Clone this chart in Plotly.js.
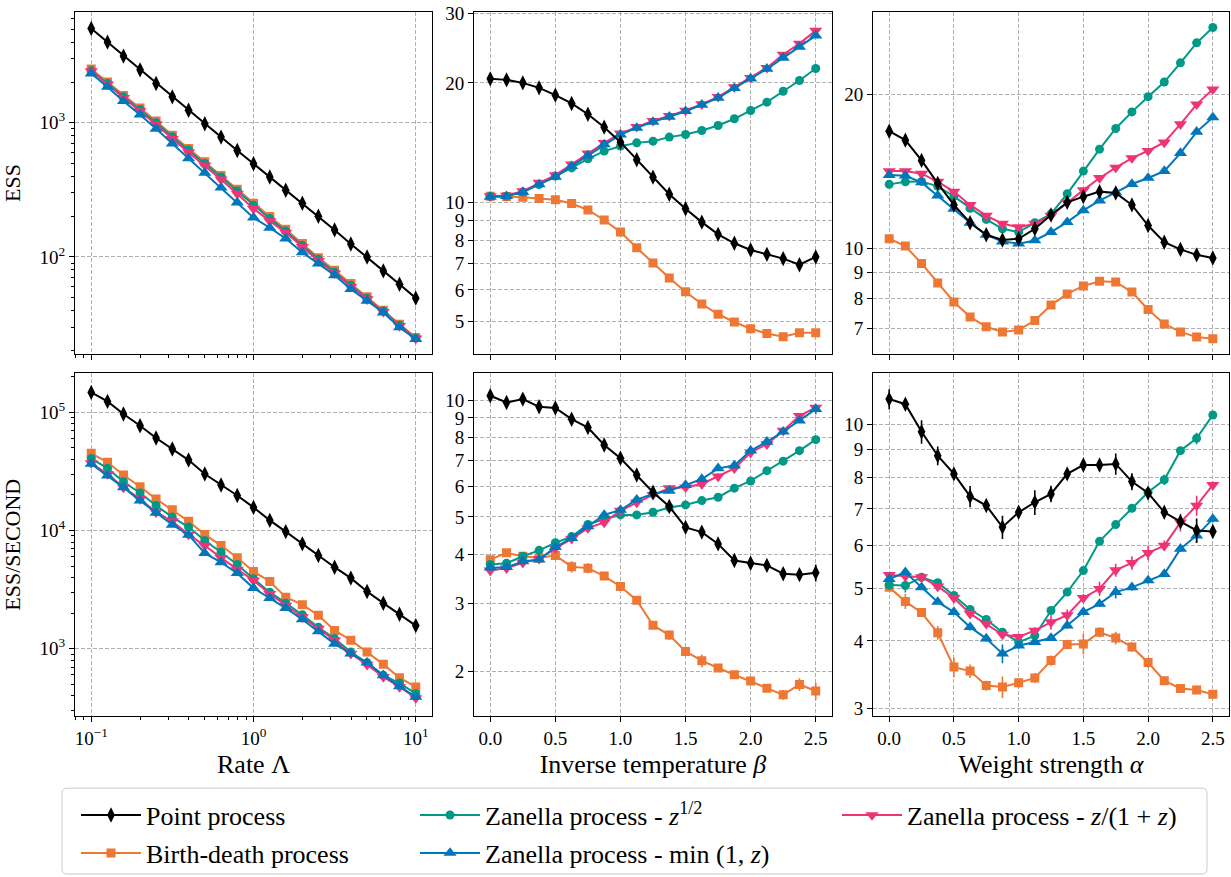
<!DOCTYPE html>
<html>
<head>
<meta charset="utf-8">
<script src="https://cdn.plot.ly/plotly-3.0.1.min.js"></script>
<style>
html, body { margin: 0; padding: 0; background: #ffffff; }
#chart { width: 1231px; height: 877px; }
</style>
</head>
<body>
<div id="chart"></div>
<script>
// ---------------- data ----------------
const rateLambda = [0.1, 0.126, 0.158, 0.2, 0.251, 0.316, 0.398, 0.501, 0.631, 0.794, 1.0,
                    1.26, 1.58, 2.0, 2.51, 3.16, 3.98, 5.01, 6.31, 7.94, 10.0];
const betaValues = [0, 0.125, 0.25, 0.375, 0.5, 0.625, 0.75, 0.875, 1.0, 1.125, 1.25,
                    1.375, 1.5, 1.625, 1.75, 1.875, 2.0, 2.125, 2.25, 2.375, 2.5];
const alphaValues = [0, 0.125, 0.25, 0.375, 0.5, 0.625, 0.75, 0.875, 1.0, 1.125, 1.25,
                     1.375, 1.5, 1.625, 1.75, 1.875, 2.0, 2.125, 2.25, 2.375, 2.5];

const seriesNames = [
  'Point process',
  'Birth-death process',
  'Zanella process - <i>z</i><sup>1/2</sup>',
  'Zanella process - min (1, <i>z</i>)',
  'Zanella process - <i>z</i>/(1 + <i>z</i>)'
];

// ESS vs rate
const essRatePoint = [5040, 3990, 3140, 2480, 1960, 1560, 1240, 983, 782, 622, 495, 394, 314, 251, 201, 159, 125, 100, 78.7, 62.6, 49.3];
const essRateBirth = [2520, 2010, 1600, 1290, 1030, 809, 644, 513, 405, 319, 251, 200, 161, 126, 98.8, 79.5, 63.3, 50.4, 40.1, 31.5, 25.1];
const essRateSqrt  = [2450, 1960, 1560, 1256, 1000, 787, 626, 498, 394, 310, 243, 193, 156, 122, 96.2, 77.3, 61.5, 49.2, 39.5, 31.0, 24.8];
const essRateMin   = [2330, 1850, 1450, 1150, 902, 698, 542, 424, 328, 254, 196, 165, 137, 108, 89.1, 73.0, 57.5, 47.0, 38.5, 29.8, 24.4];
const essRateFrac  = [2430, 1930, 1530, 1220, 972, 760, 605, 481, 378, 296, 229, 185, 152, 119, 93.3, 75.5, 60.1, 48.4, 39.0, 30.6, 24.7];

// ESS vs inverse temperature
const essBetaPoint = [20.47, 20.35, 20.0, 19.43, 18.62, 17.74, 16.67, 15.46, 14.17, 12.79, 11.56, 10.47, 9.62, 8.90, 8.29, 7.87, 7.57, 7.38, 7.20, 6.95, 7.27];
const essBetaBirth = [10.35, 10.33, 10.29, 10.21, 10.14, 9.92, 9.55, 9.01, 8.40, 7.67, 7.02, 6.43, 5.94, 5.53, 5.21, 4.98, 4.79, 4.66, 4.57, 4.68, 4.68];
const essBetaSqrt  = [10.33, 10.35, 10.60, 11.08, 11.63, 12.20, 12.86, 13.45, 13.84, 14.11, 14.25, 14.59, 14.81, 15.16, 15.61, 16.23, 17.03, 17.88, 19.05, 20.27, 21.74];
const essBetaMin   = [10.31, 10.35, 10.60, 11.08, 11.58, 12.32, 13.11, 13.98, 14.81, 15.39, 15.94, 16.42, 16.96, 17.60, 18.33, 19.39, 20.51, 21.70, 23.13, 24.65, 26.33];
const essBetaFrac  = [10.35, 10.39, 10.66, 11.19, 11.70, 12.45, 13.27, 14.11, 14.90, 15.49, 16.04, 16.51, 17.03, 17.67, 18.44, 19.50, 20.59, 21.83, 23.58, 25.13, 27.10];

// ESS vs weight strength
const essAlphaPoint = [16.97, 16.30, 14.88, 13.42, 12.18, 11.24, 10.65, 10.40, 10.46, 10.94, 11.64, 12.32, 12.64, 12.93, 12.85, 12.18, 11.10, 10.30, 9.97, 9.73, 9.59];
const essAlphaBirth = [10.46, 10.12, 9.36, 8.57, 7.87, 7.36, 7.04, 6.88, 6.94, 7.24, 7.76, 8.16, 8.46, 8.64, 8.61, 8.23, 7.61, 7.13, 6.88, 6.72, 6.67];
const essAlphaSqrt  = [13.36, 13.52, 13.54, 13.24, 12.66, 12.00, 11.41, 10.94, 10.78, 11.24, 11.70, 12.80, 14.18, 15.65, 17.18, 18.51, 19.82, 21.17, 23.08, 25.25, 27.05];
const essAlphaMin   = [13.93, 13.89, 13.48, 12.70, 11.96, 11.24, 10.65, 10.33, 10.23, 10.38, 10.78, 11.27, 11.88, 12.42, 12.89, 13.38, 13.75, 14.18, 15.38, 16.92, 18.05];
const essAlphaFrac  = [14.18, 14.18, 14.02, 13.52, 12.93, 12.18, 11.61, 11.19, 11.02, 11.19, 11.61, 12.32, 13.02, 13.75, 14.41, 15.04, 15.54, 16.13, 17.51, 19.15, 20.49];

// ESS/second vs rate
const esssRatePoint = [147600, 123900, 96800, 77100, 60700, 49000, 39500, 30100, 24300, 19800, 15700, 12200, 9800, 7720, 6150, 4900, 3960, 3050, 2430, 1960, 1570];
const esssRateBirth = [45100, 37800, 29500, 23500, 18500, 15000, 12000, 9250, 7470, 5880, 4510, 3710, 2730, 2360, 1920, 1430, 1180, 937, 738, 569, 475];
const esssRateSqrt  = [40800, 33600, 25900, 20800, 16300, 13000, 10700, 8230, 6560, 5160, 3910, 3010, 2430, 1940, 1520, 1220, 937, 762, 596, 513, 417];
const esssRateMin   = [36600, 29200, 23200, 17900, 14100, 11200, 9190, 6430, 5390, 4360, 3260, 2680, 2210, 1770, 1400, 1100, 908, 762, 596, 481, 391];
const esssRateFrac  = [37300, 30100, 23200, 18500, 14300, 12000, 9250, 7470, 5880, 4680, 3780, 2920, 2320, 1850, 1480, 1180, 908, 733, 577, 475, 383];

// ESS/second vs inverse temperature (values and error bars)
const esssBetaPoint = [10.26, 9.86, 10.06, 9.61, 9.54, 8.93, 8.50, 7.66, 7.08, 6.41, 5.79, 5.32, 4.70, 4.57, 4.26, 3.86, 3.80, 3.75, 3.57, 3.55, 3.59];
const esssBetaBirth = [3.88, 4.04, 3.96, 3.92, 3.98, 3.72, 3.69, 3.52, 3.31, 3.05, 2.63, 2.48, 2.25, 2.13, 2.04, 1.96, 1.89, 1.81, 1.74, 1.85, 1.78];
const esssBetaSqrt  = [3.77, 3.80, 3.96, 4.10, 4.29, 4.45, 4.78, 4.94, 5.06, 5.06, 5.14, 5.29, 5.37, 5.51, 5.62, 5.93, 6.19, 6.58, 6.96, 7.41, 7.91];
const esssBetaMin   = [3.70, 3.71, 3.84, 3.88, 4.18, 4.41, 4.73, 5.06, 5.21, 5.54, 5.73, 5.84, 6.04, 6.26, 6.67, 6.78, 7.41, 7.81, 8.29, 8.85, 9.48];
const esssBetaFrac  = [3.64, 3.69, 3.81, 3.90, 4.15, 4.39, 4.68, 4.84, 5.19, 5.45, 5.70, 5.93, 5.96, 6.08, 6.36, 6.67, 7.33, 7.70, 8.34, 9.11, 9.57];
const errBetaPoint = [0.30, 0.15, 0.12, 0.12, 0.12, 0.12, 0.12, 0.10, 0.10, 0.08, 0.07, 0.06, 0.06, 0.06, 0.06, 0.11, 0.05, 0.05, 0.05, 0.05, 0.18];
const errBetaBirth = [0.06, 0.06, 0.05, 0.05, 0.06, 0.13, 0.11, 0.06, 0.06, 0.05, 0.06, 0.07, 0.04, 0.08, 0.04, 0.03, 0.03, 0.03, 0.05, 0.07, 0.09];
const errBetaSqrt  = [0.05, 0.05, 0.05, 0.05, 0.05, 0.05, 0.05, 0.05, 0.05, 0.05, 0.05, 0.05, 0.06, 0.06, 0.06, 0.06, 0.07, 0.07, 0.07, 0.08, 0.10];
const errBetaMin   = [0.06, 0.05, 0.05, 0.05, 0.05, 0.05, 0.05, 0.06, 0.06, 0.06, 0.06, 0.07, 0.07, 0.07, 0.08, 0.08, 0.09, 0.10, 0.10, 0.12, 0.28];
const errBetaFrac  = [0.11, 0.09, 0.06, 0.06, 0.06, 0.06, 0.06, 0.06, 0.06, 0.07, 0.07, 0.07, 0.08, 0.18, 0.12, 0.08, 0.22, 0.10, 0.10, 0.15, 0.12];

// ESS/second vs weight strength (values and error bars)
const esssAlphaPoint = [11.15, 10.91, 9.71, 8.77, 8.12, 7.38, 7.10, 6.48, 6.90, 7.20, 7.46, 8.12, 8.43, 8.43, 8.47, 7.86, 7.49, 6.90, 6.63, 6.39, 6.36];
const esssAlphaBirth = [5.02, 4.73, 4.51, 4.14, 3.58, 3.52, 3.31, 3.29, 3.35, 3.42, 3.68, 3.94, 3.95, 4.15, 4.05, 3.90, 3.65, 3.38, 3.27, 3.25, 3.19];
const esssAlphaSqrt  = [5.07, 5.06, 5.24, 5.12, 4.85, 4.57, 4.38, 4.15, 3.98, 4.09, 4.55, 4.92, 5.39, 6.10, 6.55, 7.02, 7.51, 7.92, 8.96, 9.44, 10.42];
const esssAlphaMin   = [5.20, 5.35, 5.02, 4.72, 4.52, 4.24, 4.04, 3.79, 3.92, 3.98, 4.05, 4.27, 4.52, 4.68, 4.92, 5.02, 5.17, 5.31, 5.91, 6.25, 6.71];
const esssAlphaFrac  = [5.29, 5.26, 5.24, 5.04, 4.80, 4.49, 4.30, 4.11, 4.07, 4.18, 4.33, 4.46, 4.80, 4.99, 5.40, 5.57, 5.81, 5.99, 6.61, 7.10, 7.75];
const errAlphaPoint = [0.47, 0.15, 0.48, 0.35, 0.14, 0.33, 0.15, 0.32, 0.15, 0.38, 0.26, 0.17, 0.18, 0.18, 0.38, 0.28, 0.13, 0.12, 0.14, 0.33, 0.11];
const errAlphaBirth = [0.06, 0.15, 0.08, 0.12, 0.15, 0.10, 0.07, 0.15, 0.07, 0.07, 0.08, 0.08, 0.17, 0.09, 0.11, 0.08, 0.08, 0.06, 0.05, 0.06, 0.05];
const errAlphaSqrt  = [0.05, 0.15, 0.05, 0.05, 0.07, 0.06, 0.05, 0.05, 0.04, 0.05, 0.05, 0.07, 0.08, 0.09, 0.10, 0.10, 0.10, 0.17, 0.13, 0.23, 0.15];
const errAlphaMin   = [0.07, 0.06, 0.05, 0.05, 0.06, 0.06, 0.05, 0.15, 0.05, 0.05, 0.05, 0.06, 0.06, 0.06, 0.13, 0.07, 0.07, 0.07, 0.08, 0.18, 0.10];
const errAlphaFrac  = [0.07, 0.07, 0.07, 0.07, 0.07, 0.06, 0.06, 0.06, 0.06, 0.06, 0.13, 0.11, 0.08, 0.15, 0.15, 0.16, 0.18, 0.13, 0.25, 0.30, 0.11];

// tick labels
const logRateTickVals = [0.1, 1, 10];
const logRateTickText = ['10<sup>\u22121</sup>', '10<sup>0</sup>', '10<sup>1</sup>'];
const essRateTickVals = [100, 1000];
const essRateTickText = ['10<sup>2</sup>', '10<sup>3</sup>'];
const esssRateTickVals = [1000, 10000, 100000];
const esssRateTickText = ['10<sup>3</sup>', '10<sup>4</sup>', '10<sup>5</sup>'];
const essBetaTicks = [5, 6, 7, 8, 9, 10, 20, 30];
const essAlphaTicks = [7, 8, 9, 10, 20];
const esssBetaTicks = [2, 3, 4, 5, 6, 7, 8, 9, 10];
const esssAlphaTicks = [3, 4, 5, 6, 7, 8, 9, 10];

// ---------------- styling ----------------
const FONT = 'Liberation Serif, DejaVu Serif, serif';
const COLORS = ['#000000', '#EE7733', '#009988', '#0077BB', '#EE3377'];
const SYMBOLS = ['diamond-tall', 'square', 'circle', 'triangle-up', 'triangle-down'];
const SIZES = [11, 9, 9, 11.5, 11.5];
const DRAW_ORDER = [1, 2, 4, 3, 0];      // which series is drawn first ... last
const LEGENDS = ['legend', 'legend2', 'legend3', 'legend4', 'legend5'];

const panels = [
  {x: rateLambda, ys: [essRatePoint, essRateBirth, essRateSqrt, essRateMin, essRateFrac], errs: null},
  {x: betaValues, ys: [essBetaPoint, essBetaBirth, essBetaSqrt, essBetaMin, essBetaFrac], errs: null},
  {x: alphaValues, ys: [essAlphaPoint, essAlphaBirth, essAlphaSqrt, essAlphaMin, essAlphaFrac], errs: null},
  {x: rateLambda, ys: [esssRatePoint, esssRateBirth, esssRateSqrt, esssRateMin, esssRateFrac], errs: null},
  {x: betaValues, ys: [esssBetaPoint, esssBetaBirth, esssBetaSqrt, esssBetaMin, esssBetaFrac],
   errs: [errBetaPoint, errBetaBirth, errBetaSqrt, errBetaMin, errBetaFrac]},
  {x: alphaValues, ys: [esssAlphaPoint, esssAlphaBirth, esssAlphaSqrt, esssAlphaMin, esssAlphaFrac],
   errs: [errAlphaPoint, errAlphaBirth, errAlphaSqrt, errAlphaMin, errAlphaFrac]}
];

const traces = [];
panels.forEach((p, pi) => {
  const ax = pi === 0 ? '' : String(pi + 1);
  DRAW_ORDER.forEach(si => {
    const t = {
      type: 'scatter', mode: 'lines+markers',
      x: p.x, y: p.ys[si],
      xaxis: 'x' + ax, yaxis: 'y' + ax,
      name: seriesNames[si],
      line: {color: COLORS[si], width: 2},
      marker: {color: COLORS[si], symbol: SYMBOLS[si], size: SIZES[si], line: {width: 0}},
      showlegend: pi === 0,
      legend: LEGENDS[si],
      hoverinfo: 'x+y+name'
    };
    if (p.errs) {
      t.error_y = {type: 'data', array: p.errs[si], visible: true, color: COLORS[si], thickness: 1.6, width: 0};
    }
    traces.push(t);
  });
});

// ---------------- axes ----------------
const W = 1231, H = 877;
const colDom = [[75 / W, 432 / W], [474 / W, 832 / W], [873 / W, 1229 / W]];
const rowDom = [[1 - 355 / H, 1 - 12 / H], [1 - 718 / H, 1 - 374 / H]];

function minorLog(lo, hi) {
  const v = [];
  for (let e = lo; e <= hi; e++) for (let d = 2; d <= 9; d++) v.push(d * Math.pow(10, e));
  return v;
}

function baseAxis(extra) {
  return Object.assign({
    showline: true, linecolor: '#000000', linewidth: 1, mirror: true,
    ticks: 'outside', ticklen: 5, tickwidth: 1, tickcolor: '#000000',
    showgrid: true, gridcolor: '#b0b0b0', gridwidth: 1, griddash: '4px,2px',
    zeroline: false, automargin: false,
    tickfont: {family: FONT, size: 19, color: '#000000'}
  }, extra);
}

const titleFont = {family: FONT, size: 26, color: '#000000'};

const rateX = (row) => baseAxis({
  type: 'log', range: [-1.1, 1.1],
  tickmode: 'array', tickvals: logRateTickVals, ticktext: logRateTickText,
  showticklabels: row === 1,
  minor: {tickmode: 'array', tickvals: [0.08, 0.09].concat(minorLog(-1, 0)), ticks: 'outside', ticklen: 3, tickwidth: 1, tickcolor: '#000000', showgrid: false}
});
const linX = (row) => baseAxis({
  type: 'linear', range: [-0.125, 2.625],
  tickmode: 'array', tickvals: [0, 0.5, 1, 1.5, 2, 2.5], tickformat: '.1f',
  showticklabels: row === 1
});
const logY = (range, vals, text, minorVals) => {
  const a = baseAxis({
    type: 'log', range: range,
    tickmode: 'array', tickvals: vals, ticktext: text || vals.map(String)
  });
  if (minorVals) {
    a.minor = {tickmode: 'array', tickvals: minorVals, ticks: 'outside', ticklen: 3, tickwidth: 1, tickcolor: '#000000', showgrid: false};
  }
  return a;
};

const layout = {
  width: W, height: H,
  margin: {l: 0, r: 0, t: 0, b: 0, pad: 0},
  paper_bgcolor: '#ffffff', plot_bgcolor: '#ffffff',
  font: {family: FONT, color: '#000000'},
  hovermode: 'closest',

  xaxis:  Object.assign(rateX(0), {domain: colDom[0], anchor: 'y'}),
  yaxis:  Object.assign(logY([1.275, 3.826], essRateTickVals, essRateTickText, minorLog(1, 3)),
                        {domain: rowDom[0], anchor: 'x', title: {text: 'ESS', font: {family: FONT, size: 22, color: '#000'}, standoff: 18}}),
  xaxis2: Object.assign(linX(0), {domain: colDom[1], anchor: 'y2'}),
  yaxis2: Object.assign(logY([0.616, 1.480], essBetaTicks), {domain: rowDom[0], anchor: 'x2'}),
  xaxis3: Object.assign(linX(0), {domain: colDom[2], anchor: 'y3'}),
  yaxis3: Object.assign(logY([0.794, 1.4626], essAlphaTicks), {domain: rowDom[0], anchor: 'x3'}),

  xaxis4: Object.assign(rateX(1), {domain: colDom[0], anchor: 'y4', title: {text: 'Rate \u039B', font: titleFont, standoff: 6}}),
  yaxis4: Object.assign(logY([2.428, 5.332], esssRateTickVals, esssRateTickText, minorLog(2, 5)),
                        {domain: rowDom[1], anchor: 'x4', title: {text: 'ESS/SECOND', font: {family: FONT, size: 22, color: '#000'}, standoff: 18}}),
  xaxis5: Object.assign(linX(1), {domain: colDom[1], anchor: 'y5', title: {text: 'Inverse temperature <i>\u03B2</i>', font: titleFont, standoff: 6}}),
  yaxis5: Object.assign(logY([0.185, 1.0695], esssBetaTicks), {domain: rowDom[1], anchor: 'x5'}),
  xaxis6: Object.assign(linX(1), {domain: colDom[2], anchor: 'y6', title: {text: 'Weight strength <i>\u03B1</i>', font: titleFont, standoff: 6}}),
  yaxis6: Object.assign(logY([0.4632, 1.095], esssAlphaTicks), {domain: rowDom[1], anchor: 'x6'})
};

// legends: three columns, like a 3-column matplotlib legend
const legendFont = {family: FONT, size: 26, color: '#000000'};
const legendPos = [[76, 817], [76, 855], [415, 817], [415, 855], [837, 817]];
LEGENDS.forEach((name, i) => {
  layout[name] = {
    x: legendPos[i][0] / W, y: 1 - legendPos[i][1] / H,
    xanchor: 'left', yanchor: 'middle', xref: 'paper', yref: 'paper',
    orientation: 'v', bgcolor: 'rgba(0,0,0,0)', borderwidth: 0,
    font: legendFont, itemwidth: 60, itemclick: false, itemdoubleclick: false
  };
});

// rounded legend frame
(function () {
  const x0 = 62 / W, x1 = 1207 / W, y0 = 1 - 876 / H, y1 = 1 - 790 / H;
  const rx = 5 / W, ry = 5 / H;
  const path = `M${x0 + rx},${y1} L${x1 - rx},${y1} Q${x1},${y1} ${x1},${y1 - ry} ` +
               `L${x1},${y0 + ry} Q${x1},${y0} ${x1 - rx},${y0} L${x0 + rx},${y0} ` +
               `Q${x0},${y0} ${x0},${y0 + ry} L${x0},${y1 - ry} Q${x0},${y1} ${x0 + rx},${y1} Z`;
  layout.shapes = [{
    type: 'path', xref: 'paper', yref: 'paper', path: path,
    line: {color: '#cccccc', width: 1}, fillcolor: 'rgba(255,255,255,0.8)', layer: 'below'
  }];
})();

Plotly.newPlot('chart', traces, layout, {displayModeBar: false, responsive: false, staticPlot: false});
</script>
</body>
</html>
